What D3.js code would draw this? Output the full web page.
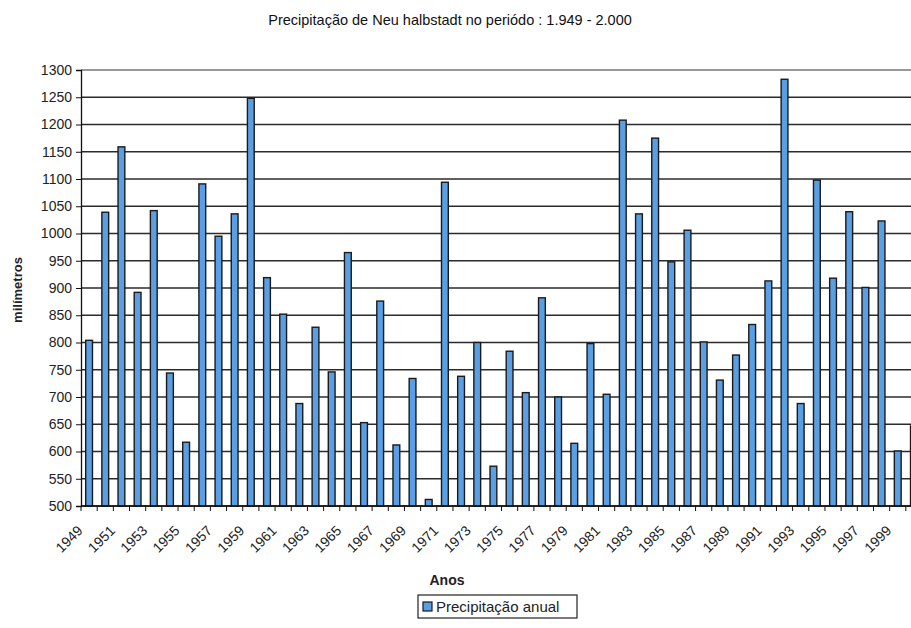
<!DOCTYPE html>
<html>
<head>
<meta charset="utf-8">
<script src="https://cdn.jsdelivr.net/npm/d3@7"></script>
<style>
  body { margin: 0; background: #fff; }
  svg { font-family: "Liberation Sans", Arial, sans-serif; }
</style>
</head>
<body>
<div id="chart"></div>
<script>
// anos e precipitação anual (mm)
var years = [];
for (var yr = 1949; yr <= 2000; yr++) { years.push(String(yr)); }

var precipitation = [
  804, 1039, 1159, 892, 1042, 744, 617, 1091, 995, 1036,
  1248, 919, 852, 688, 828, 746, 965, 653, 876, 612,
  734, 512, 1094, 738, 800, 573, 784, 708, 882, 700,
  615, 798, 705, 1208, 1036, 1175, 948, 1006, 801, 731,
  777, 833, 913, 1283, 688, 1098, 918, 1040, 901, 1023,
  601, 647
];

var yTicks = [500, 550, 600, 650, 700, 750, 800, 850, 900, 950, 1000,
              1050, 1100, 1150, 1200, 1250, 1300];

var data = years.map(function(d, i) { return { year: d, value: precipitation[i] }; });

var margin = { top: 70, right: 0, bottom: 122, left: 81 };
var width = 841, height = 436;

var svg = d3.select("#chart").append("svg")
  .attr("width", 911)
  .attr("height", 628);

var g = svg.append("g")
  .attr("transform", "translate(" + margin.left + "," + margin.top + ")");

var x = d3.scaleBand()
  .domain(years)
  .range([0, width])
  .paddingInner(0.58)
  .paddingOuter(0.29);

var y = d3.scaleLinear()
  .domain([500, 1300])
  .range([height, 0]);

// título
svg.append("text")
  .attr("x", 450)
  .attr("y", 25)
  .attr("text-anchor", "middle")
  .style("font-size", "14.5px")
  .attr("fill", "#111")
  .text("Precipitação de Neu halbstadt no periódo : 1.949 - 2.000");

// linhas de grade
g.selectAll("line.grid")
  .data(yTicks)
  .enter().append("line")
  .attr("class", "grid")
  .attr("x1", 0)
  .attr("x2", width)
  .attr("y1", function(d) { return y(d); })
  .attr("y2", function(d) { return y(d); })
  .attr("stroke", function(d) { return d == 1300 ? "#777" : "#2b2b2b"; })
  .attr("stroke-width", 1.3);

// barras
g.selectAll("rect.bar")
  .data(data)
  .enter().append("rect")
  .attr("class", "bar")
  .attr("x", function(d) { return x(d.year); })
  .attr("width", x.bandwidth())
  .attr("y", function(d) { return y(d.value); })
  .attr("height", function(d) { return height - y(d.value); })
  .attr("fill", "#5a9fe3")
  .attr("stroke", "#1a1a1a")
  .attr("stroke-width", 1.4);

// eixo y
var yAxis = d3.axisLeft(y).tickValues(yTicks).tickFormat(d3.format("d")).tickSize(5).tickPadding(4);
var yG = g.append("g").call(yAxis);
yG.select(".domain").attr("stroke", "#111").attr("stroke-width", 1.3);
yG.selectAll("line").attr("stroke", "#111");
yG.selectAll("text").style("font-size", "14px").attr("fill", "#222");

// eixo x (marcas entre as categorias)
var step = x.step();
var xG = g.append("g").attr("transform", "translate(0," + height + ")");
xG.append("line")
  .attr("x1", 0).attr("x2", width)
  .attr("stroke", "#111").attr("stroke-width", 1.3);
xG.selectAll("line.tick")
  .data(years)
  .enter().append("line")
  .attr("class", "tick")
  .attr("x1", function(d) { return x(d) + x.bandwidth() / 2 - step / 2; })
  .attr("x2", function(d) { return x(d) + x.bandwidth() / 2 - step / 2; })
  .attr("y1", 0).attr("y2", 5)
  .attr("stroke", "#111");

xG.selectAll("text")
  .data(years.filter(function(d, i) { return i % 2 == 0; }))
  .enter().append("text")
  .attr("transform", function(d) {
    return "translate(" + (x(d) + x.bandwidth() / 2 - 9) + ",22) rotate(-45)";
  })
  .attr("text-anchor", "end")
  .attr("dy", "0.35em")
  .style("font-size", "14px")
  .attr("fill", "#222")
  .text(function(d) { return d; });

// títulos dos eixos
svg.append("text")
  .attr("transform", "translate(22,290) rotate(-90)")
  .attr("text-anchor", "middle")
  .style("font-size", "13px")
  .style("font-weight", "bold")
  .attr("fill", "#222")
  .text("milímetros");

svg.append("text")
  .attr("x", 447)
  .attr("y", 585)
  .attr("text-anchor", "middle")
  .style("font-size", "14px")
  .style("font-weight", "bold")
  .attr("fill", "#222")
  .text("Anos");

// legenda
var leg = svg.append("g").attr("transform", "translate(418,595)");
leg.append("rect")
  .attr("width", 159).attr("height", 23)
  .attr("fill", "#fff").attr("stroke", "#222").attr("stroke-width", 1.2);
leg.append("rect")
  .attr("x", 5).attr("y", 7).attr("width", 9).attr("height", 9)
  .attr("fill", "#5a9fe3").attr("stroke", "#1a1a1a").attr("stroke-width", 1.2);
leg.append("text")
  .attr("x", 18).attr("y", 17)
  .style("font-size", "15px")
  .attr("fill", "#222")
  .text("Precipitação anual");
</script>
</body>
</html>
